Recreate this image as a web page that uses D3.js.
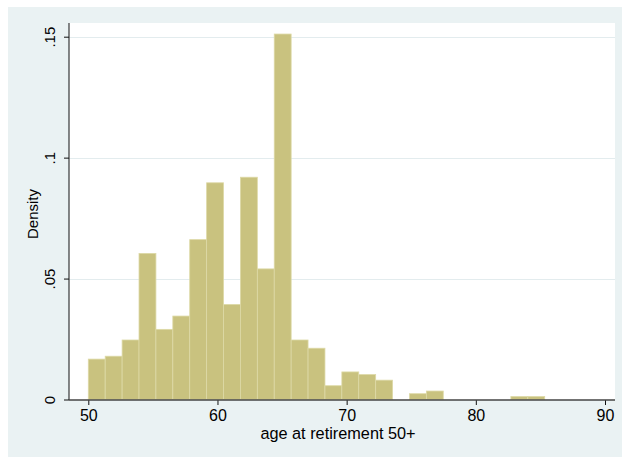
<!DOCTYPE html>
<html>
<head>
<meta charset="utf-8">
<script src="https://cdn.jsdelivr.net/npm/d3@7/dist/d3.min.js"></script>
<style>
  html, body { margin: 0; padding: 0; background: #ffffff; }
  svg { display: block; }
  text { font-family: "Liberation Sans", Arial, Helvetica, sans-serif; fill: #000; }
</style>
</head>
<body>
<svg id="chart" width="622" height="457"></svg>
<script>
// Histogram of age at retirement (50+), density scale
const binStart = 50;
const binWidth = 1.3086;
const density = [
  0.0167, 0.0179, 0.0246, 0.0604, 0.0290, 0.0345, 0.0661, 0.0896, 0.0393,
  0.0919, 0.0540, 0.1511, 0.0246, 0.0212, 0.0057, 0.0114, 0.0103, 0.0080,
  0.0000, 0.0024, 0.0035, 0.0000, 0.0000, 0.0000, 0.0000, 0.0012, 0.0012
];
const xTicks = [50, 60, 70, 80, 90];
const xTickLabels = ["50", "60", "70", "80", "90"];
const yTicks = [0, 0.05, 0.1, 0.15];
const yTickLabels = ["0", ".05", ".1", ".15"];
const xTitle = "age at retirement 50+";
const yTitle = "Density";

const bins = density.map((d, i) => ({
  x0: binStart + i * binWidth,
  x1: binStart + (i + 1) * binWidth,
  d: d
}));

const svg = d3.select("#chart");
const W = 622, H = 457;

// plot region
const plot = { left: 69, right: 615, top: 23, bottom: 400 };

const x = d3.scaleLinear().domain([50, 90]).range([88.3, 605]);
const y = d3.scaleLinear().domain([0, 0.15]).range([399.5, 36.7]);

// outer graph region
svg.append("rect")
  .attr("x", 8).attr("y", 7)
  .attr("width", W - 8).attr("height", H - 7)
  .attr("fill", "#EAF2F3");

// inner plot region
svg.append("rect")
  .attr("x", plot.left).attr("y", plot.top)
  .attr("width", plot.right - plot.left).attr("height", plot.bottom - plot.top)
  .attr("fill", "#ffffff");

// horizontal grid lines
svg.append("g")
  .selectAll("line")
  .data(yTicks.filter(v => v > 0))
  .join("line")
  .attr("x1", plot.left).attr("x2", plot.right)
  .attr("y1", d => Math.round(y(d)) + 0.5)
  .attr("y2", d => Math.round(y(d)) + 0.5)
  .attr("stroke", "#E3ECEE")
  .attr("stroke-width", 1.2);

// bars
svg.append("g")
  .selectAll("rect")
  .data(bins.filter(b => b.d > 0))
  .join("rect")
  .attr("x", b => x(b.x0))
  .attr("width", b => x(b.x1) - x(b.x0))
  .attr("y", b => y(b.d))
  .attr("height", b => y(0) - y(b.d))
  .attr("fill", "#C9C27F")
  .attr("stroke", "#DDD9A6")
  .attr("stroke-width", 0.8);

// y axis
const yAxis = d3.axisLeft(y)
  .tickValues(yTicks)
  .tickFormat((d, i) => yTickLabels[i])
  .tickSize(5)
  .tickSizeOuter(0);
const gy = svg.append("g")
  .attr("transform", `translate(${plot.left},0)`)
  .call(yAxis);
gy.select(".domain").remove();
gy.append("line")
  .attr("x1", 0).attr("x2", 0)
  .attr("y1", plot.top).attr("y2", plot.bottom)
  .attr("stroke", "#111").attr("stroke-width", 1);
gy.selectAll(".tick line").attr("stroke", "#111");
gy.selectAll(".tick text")
  .attr("font-size", 15)
  .attr("fill", "#000")
  .attr("x", null).attr("dy", null)
  .attr("text-anchor", "middle")
  .attr("transform", "translate(-14,0) rotate(-90)");

// x axis
const xAxis = d3.axisBottom(x)
  .tickValues(xTicks)
  .tickFormat((d, i) => xTickLabels[i])
  .tickSize(5)
  .tickSizeOuter(0);
const gx = svg.append("g")
  .attr("transform", `translate(0,${plot.bottom})`)
  .call(xAxis);
gx.select(".domain").remove();
gx.append("line")
  .attr("x1", plot.left).attr("x2", plot.right)
  .attr("y1", 0).attr("y2", 0)
  .attr("stroke", "#444").attr("stroke-width", 1.3);
gx.selectAll(".tick line").attr("stroke", "#111");
gx.selectAll(".tick text")
  .attr("font-size", 16)
  .attr("fill", "#000")
  .attr("y", 21).attr("dy", null);

// axis titles
svg.append("text")
  .attr("x", 338).attr("y", 438.5)
  .attr("text-anchor", "middle")
  .attr("font-size", 16.3)
  .text(xTitle);

svg.append("text")
  .attr("transform", "translate(38,214) rotate(-90)")
  .attr("text-anchor", "middle")
  .attr("font-size", 15)
  .text(yTitle);
</script>
</body>
</html>
